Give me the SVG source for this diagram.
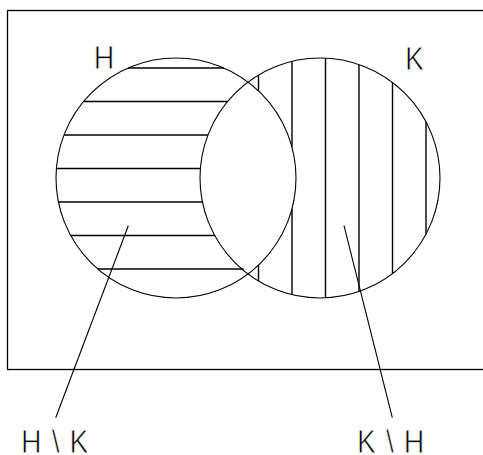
<svg xmlns="http://www.w3.org/2000/svg" width="483" height="455" viewBox="0 0 483 455">
<style>
.frame{fill:none;stroke:#000;stroke-width:1.3}
.circ{fill:none;stroke:#000;stroke-width:1.1}
.hatch{stroke:#000;stroke-width:1.4;fill:none}
.ptr{stroke:#000;stroke-width:1.1;fill:none}
.lbl{font-family:"Liberation Sans",Arial,sans-serif;font-size:33.5px;fill:#000;stroke:#fff;stroke-width:0.8px}
.lbl2{letter-spacing:11.8px}
</style>
<rect width="483" height="455" fill="#fff"/>
<g id="universe"><rect class="frame" x="7.5" y="10.5" width="480" height="359"/></g>
<g id="hatch-HminusK" class="hatch">
<line x1="128.0" y1="68" x2="224.0" y2="68"/>
<line x1="83.6" y1="101.5" x2="227.6" y2="101.5"/>
<line x1="64.0" y1="135" x2="208.0" y2="135"/>
<line x1="56.4" y1="168.5" x2="200.4" y2="168.5"/>
<line x1="58.4" y1="202" x2="202.4" y2="202"/>
<line x1="70.7" y1="235.5" x2="214.7" y2="235.5"/>
<line x1="97.8" y1="269" x2="243.5" y2="269"/>
</g>
<g id="hatch-KminusH" class="hatch">
<line x1="258.5" y1="75.0" x2="258.5" y2="90.9"/>
<line x1="258.5" y1="265.1" x2="258.5" y2="281.0"/>
<line x1="292" y1="61.3" x2="292" y2="147.3"/>
<line x1="292" y1="208.7" x2="292" y2="294.7"/>
<line x1="325.5" y1="58.1" x2="325.5" y2="297.9"/>
<line x1="359" y1="64.5" x2="359" y2="291.5"/>
<line x1="392.5" y1="82.4" x2="392.5" y2="273.6"/>
<line x1="426" y1="121.8" x2="426" y2="234.2"/>
</g>
<g id="H"><circle class="circ" cx="176" cy="178" r="120"/>
<text class="lbl" transform="translate(93.8,69) scale(0.85,1)">H</text></g>
<g id="K"><circle class="circ" cx="320" cy="178" r="120"/>
<text class="lbl" transform="translate(404.9,69.5) scale(0.85,1)">K</text></g>
<g id="connectors">
<line class="ptr" x1="128.3" y1="225.7" x2="55.7" y2="417.7"/>
<line class="ptr" x1="344" y1="225.7" x2="392.3" y2="417.7"/>
</g>
<g id="label-HminusK"><text class="lbl lbl2" transform="translate(21.1,453) scale(0.85,1)">H\K</text></g>
<g id="label-KminusH"><text class="lbl lbl2" transform="translate(356.9,453) scale(0.85,1)">K\H</text></g>
</svg>
